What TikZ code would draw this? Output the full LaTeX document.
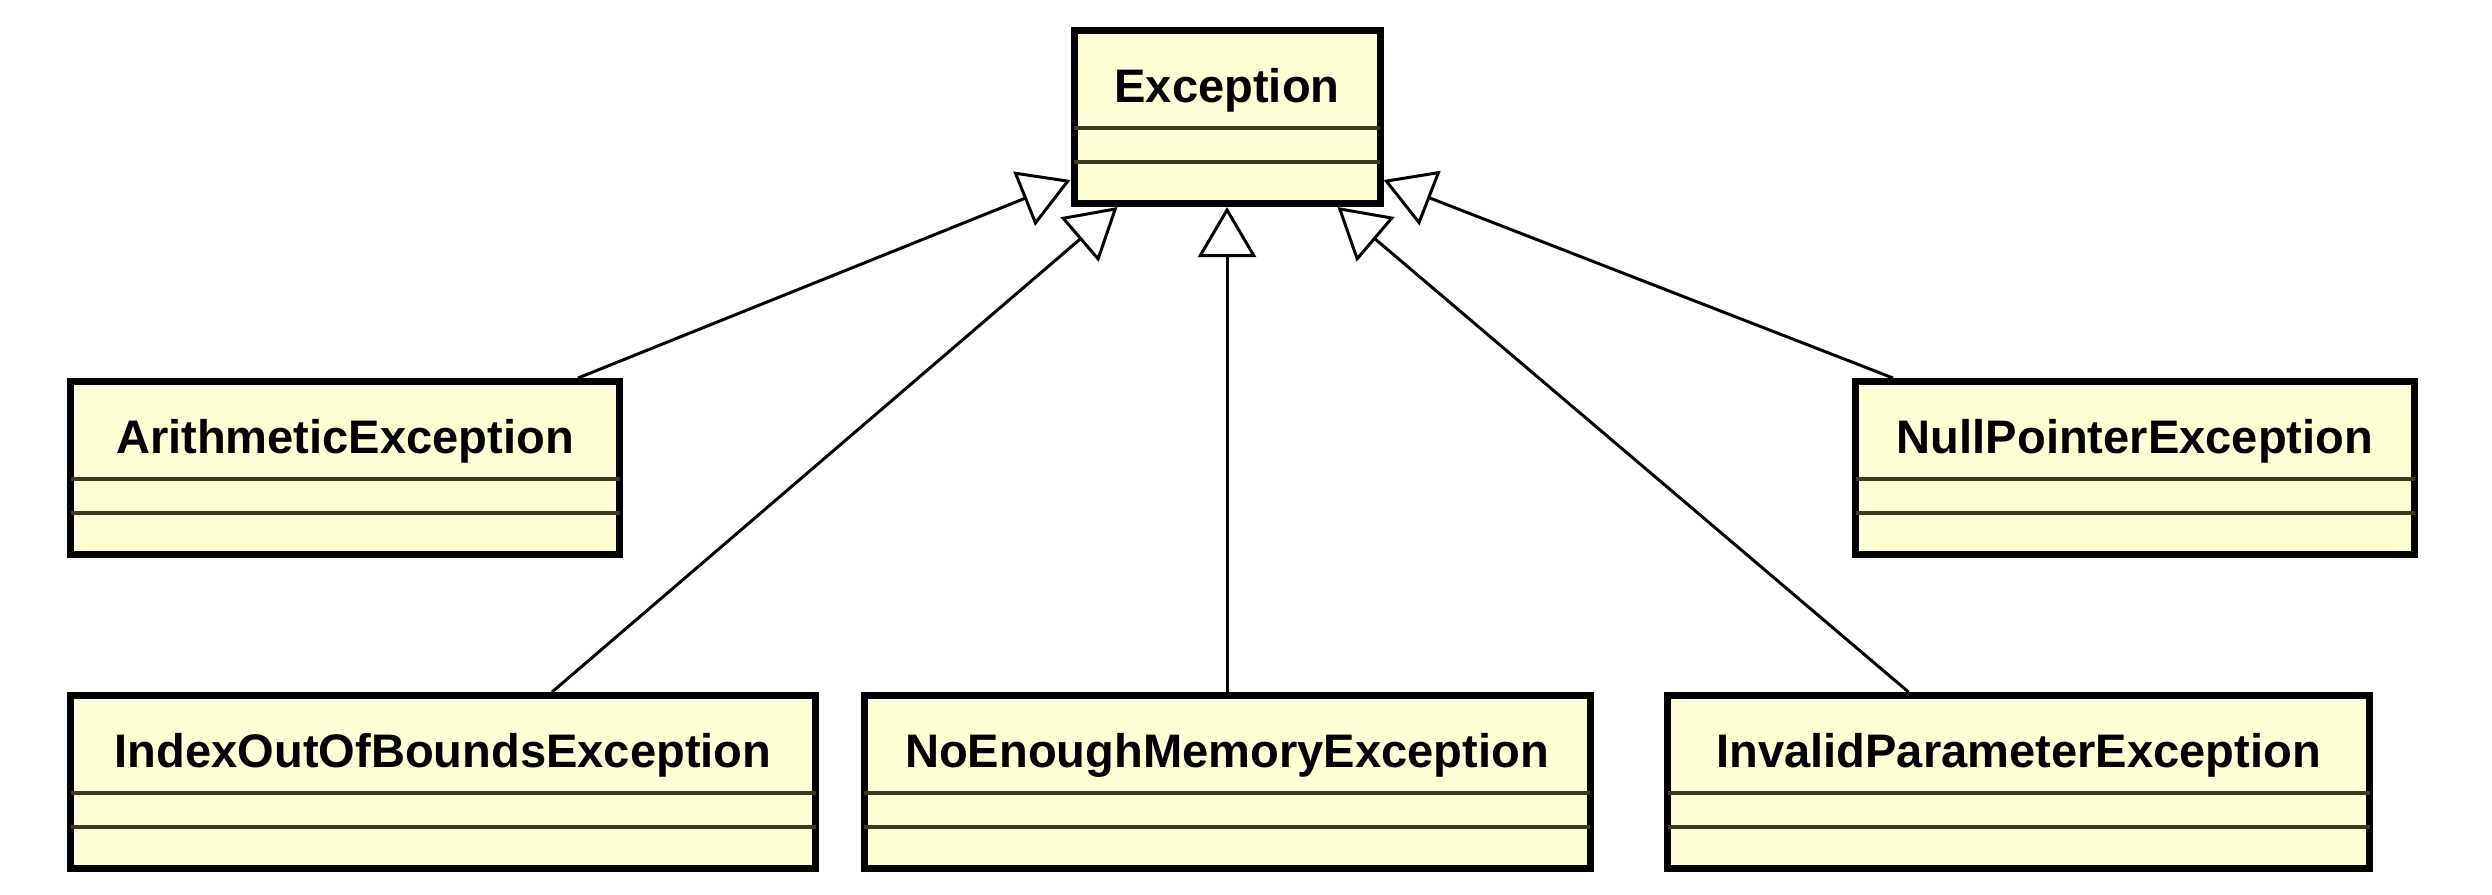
\documentclass[tikz,border=0pt]{standalone}
\usepackage{fontspec}
\setmainfont{Liberation Sans}
\usetikzlibrary{arrows.meta}
\definecolor{classfill}{RGB}{255,255,214}
\definecolor{divline}{RGB}{60,58,30}

\begin{document}
\begin{tikzpicture}[classbox/.style={draw, line width=2pt, fill=classfill, inner sep=0pt, anchor=north, text height=0.715cm, text depth=1.015cm, font=\fontsize{13.4pt}{16pt}\selectfont\bfseries}, divider/.style={draw=divline, line width=0.9pt}, extends/.style={line width=0.85pt, -{Triangle[length=5mm, width=5.8mm, fill=white]}}]
			\useasboundingbox (0,0) rectangle (24.92,8.94);
			% classes
			\node[classbox, minimum width=3.06cm] (exc) at (12.27,8.67) {Exception};
			\node[classbox, minimum width=5.49cm] (arith) at (3.45,5.16) {ArithmeticException};
			\node[classbox, minimum width=5.59cm] (nullp) at (21.35,5.16) {NullPointerException};
			\node[classbox, minimum width=7.45cm] (index) at (4.43,2.02) {IndexOutOfBoundsException};
			\node[classbox, minimum width=7.26cm] (nomem) at (12.27,2.02) {NoEnoughMemoryException};
			\node[classbox, minimum width=7.02cm] (invalid) at (20.185,2.02) {InvalidParameterException};
			% empty compartments
			\foreach \c in {exc, arith, nullp, index, nomem, invalid}{
				\draw[divider] ([shift={(1pt,-1.01cm)}]\c.north west) -- ([shift={(-1pt,-1.01cm)}]\c.north east);
				\draw[divider] ([shift={(1pt,-1.35cm)}]\c.north west) -- ([shift={(-1pt,-1.35cm)}]\c.north east);
			}
			% generalisations
			\draw[extends] ([xshift=2.33cm]arith.north) -- ([yshift=-0.63cm]exc.west);
			\draw[extends] ([xshift=1.09cm]index.north) -- ([xshift=-1.095cm]exc.south);
			\draw[extends] (nomem.north) -- (exc.south);
			\draw[extends] ([xshift=-1.1cm]invalid.north) -- ([xshift=1.105cm]exc.south);
			\draw[extends] ([xshift=-2.42cm]nullp.north) -- ([yshift=-0.63cm]exc.east);
\end{tikzpicture}
\end{document}
